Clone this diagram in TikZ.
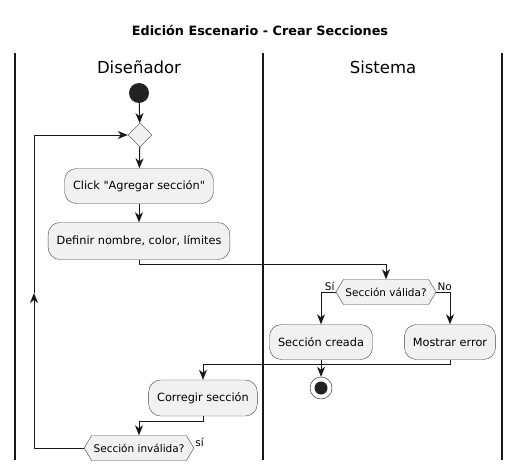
\documentclass[tikz,border=0pt]{standalone}
\usepackage{fontspec}
\setmainfont{DejaVu Sans}
\newfontfamily\plainfont{DejaVu Sans}
\usepackage{tikz}
\usetikzlibrary{shapes,shapes.symbols,arrows.meta,positioning}
\definecolor{umlfill}{HTML}{F1F1F1}
\definecolor{umlline}{HTML}{181818}
\definecolor{umldot}{HTML}{222222}

\begin{document}
\begin{tikzpicture}
  [
    x=1pt, y=-1pt,
    Action/.style={rectangle, rounded corners=12pt, draw=umlline!80, fill=umlfill,
      minimum height=35pt, inner xsep=8.5pt, font=\fontsize{11.3}{13}\selectfont},
    Branch/.style={signal, signal to=west and east, signal pointer angle=118,
      draw=umlline!80, fill=umlfill, minimum height=25pt, inner xsep=2pt,
      font=\fontsize{10.5}{12}\selectfont},
    Merge/.style={diamond, draw=umlline!80, fill=umlfill, minimum size=24pt, inner sep=0pt},
    Start/.style={circle, fill=umldot, minimum size=20pt, inner sep=0pt},
    Stop/.style={circle, draw=umlline, fill=white, minimum size=22pt, inner sep=0pt,
      path picture={\fill[umldot] (path picture bounding box.center) circle (6.5pt);}},
    Lane/.style={draw=umlline, line width=1.5pt},
    Flow/.style={->, draw=umlline, line width=1pt, >={Stealth[length=10pt, width=8pt, inset=3pt]}},
    Guard/.style={font=\fontsize{10.5}{12}\selectfont, inner sep=1pt}
  ]
  \useasboundingbox (0,0) rectangle (521,471);
  % Title and lanes
  \node[font=\bfseries\fontsize{12.8}{15}\selectfont] (title) at (260,30) {Edición Escenario - Crear Secciones};
  \draw[Lane] (15,53) -- (15,460);
  \draw[Lane] (263,53) -- (263,460);
  \draw[Lane] (502,53) -- (502,460);
  \node[font=\fontsize{16.5}{18}\selectfont] (designer) at (139,67) {Diseñador};
  \node[font=\fontsize{16.5}{18}\selectfont] (system) at (383,67) {Sistema};
  % Nodes
  \node[Start] (start) at (139,93) {};
  \node[Merge] (merge) at (140,135) {};
  \node[Action] (click) at (139,186) {\plainfont Click "Agregar sección"};
  \node[Action, minimum height=37pt] (define) at (139,241) {Definir nombre, color, límites};
  \node[Branch] (valid) at (386,292) {Sección válida?};
  \node[Action] (created) at (321,342) {Sección creada};
  \node[Action] (error) at (450,342) {Mostrar error};
  \node[Stop] (stop) at (321,388) {};
  \node[Action, minimum height=36pt] (fix) at (203,398) {Corregir sección};
  \node[Branch] (invalid) at (139,448) {Sección inválida?};
  \node[Guard, above left] (yes) at (valid.west) {Sí};
  \node[Guard, above right] (no) at (valid.east) {No};
  \node[Guard, above right] (again) at (invalid.east) {sí};
  \coordinate (back) at (34,293);
  % Lines
  \path[Flow] (start) -- (merge);
  \path[Flow] (merge) -- (click);
  \path[Flow] (click) -- (define);
  \path[Flow] (define.south) -- ++(0,5) -| (valid.north);
  \path[Flow] (valid.west) -| (created.north);
  \path[Flow] (valid.east) -| (error.north);
  \path[Flow] (created) -- (stop);
  \path[Flow] (error.south) -- ++(0,5) -| (fix.north);
  \path[Flow] (fix.south) -- ++(0,5) -| (invalid.north);
  \path[Flow] (invalid.west) -| (back);
  \path[Flow] (back) |- (merge.west);
\end{tikzpicture}
\end{document}
